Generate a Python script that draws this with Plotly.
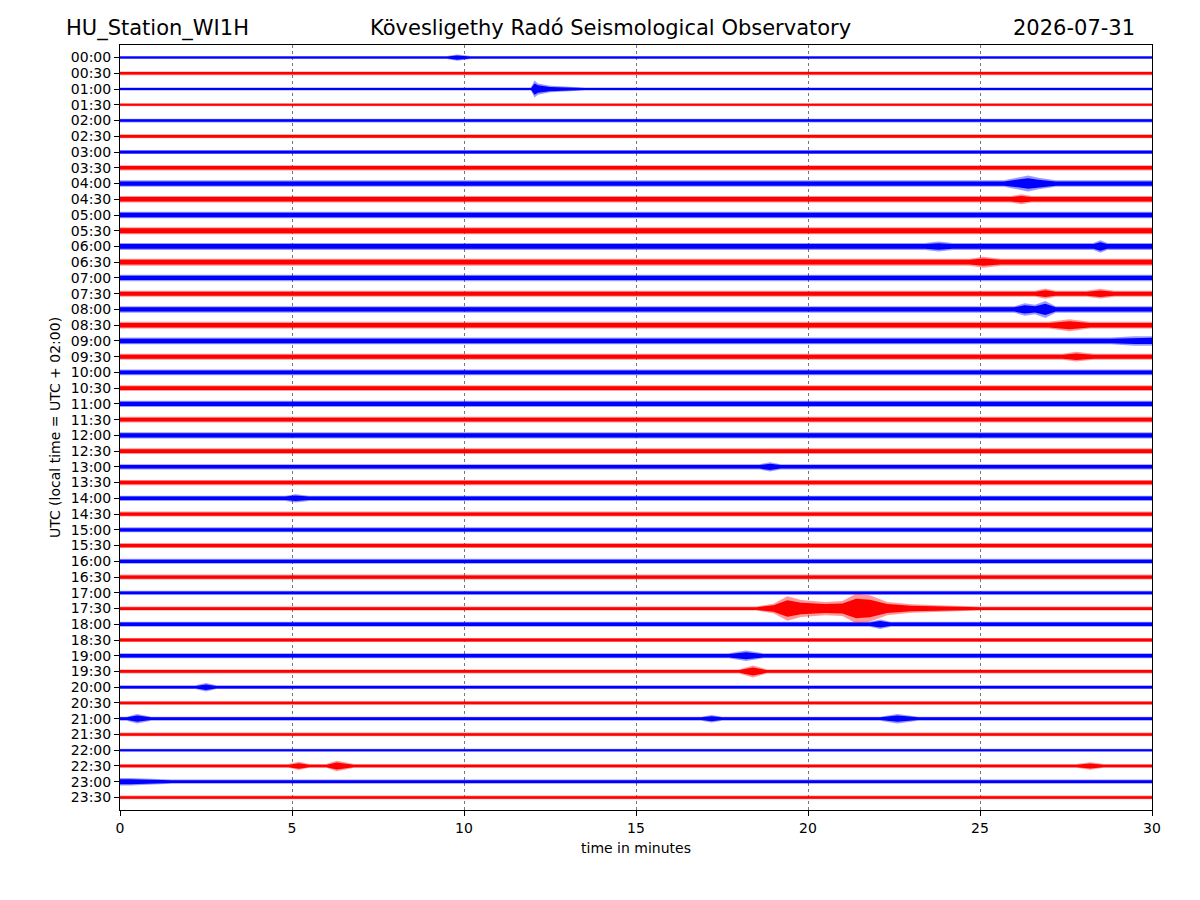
import plotly.graph_objects as go

# helicorder of one day, 48 rows of 30 minutes
station = "HU_Station_WI1H"
observatory = "Kövesligethy Radó Seismological Observatory"
day = "2026-07-31"
record_minutes = 30

row_labels = ["%02d:%02d" % (h, m) for h in range(24) for m in (0, 30)]

# background noise level per row (half amplitude, in row spacings)
base_amp = [0.08, 0.10, 0.08, 0.08, 0.10, 0.11, 0.11, 0.14,
            0.17, 0.17, 0.17, 0.19, 0.19, 0.19, 0.17, 0.16,
            0.17, 0.18, 0.18, 0.16, 0.15, 0.15, 0.16, 0.15,
            0.16, 0.15, 0.14, 0.14, 0.14, 0.13, 0.13, 0.13,
            0.13, 0.13, 0.11, 0.11, 0.13, 0.11, 0.13, 0.11,
            0.10, 0.10, 0.11, 0.10, 0.08, 0.10, 0.11, 0.10]

# bursts above the noise: row, envelope times (min), envelope half amplitudes
ev_rows = ["00:00", "01:00", "04:00", "04:30", "06:00", "06:00", "06:30",
           "07:30", "07:30", "08:00", "08:30", "09:00", "09:30", "13:00",
           "14:00", "17:30", "18:00", "19:00", "19:30", "20:00", "21:00",
           "21:00", "21:00", "22:30", "22:30", "22:30", "23:00"]
ev_t = [[9.5, 9.8, 10.2],
        [11.95, 12.05, 12.15, 12.5, 13.5],
        [25.7, 26.1, 26.4, 26.7, 27.2],
        [25.9, 26.2, 26.5],
        [23.4, 23.8, 24.2],
        [28.3, 28.5, 28.7],
        [24.7, 25.1, 25.6],
        [26.6, 26.9, 27.2],
        [28.1, 28.5, 28.9],
        [26.0, 26.3, 26.6, 26.9, 27.2],
        [27.0, 27.6, 28.2],
        [28.8, 29.5, 30.0],
        [27.4, 27.8, 28.3],
        [18.6, 18.9, 19.2],
        [4.8, 5.1, 5.5],
        [18.5, 19.0, 19.4, 19.8, 20.5, 21.0, 21.4, 21.8, 22.3, 23.0, 24.0, 25.0],
        [21.8, 22.1, 22.4],
        [17.7, 18.2, 18.7],
        [18.0, 18.4, 18.8],
        [2.2, 2.5, 2.8],
        [0.2, 0.5, 0.9],
        [16.9, 17.2, 17.5],
        [22.1, 22.6, 23.2],
        [4.9, 5.2, 5.5],
        [6.0, 6.3, 6.8],
        [27.8, 28.2, 28.6],
        [0.0, 0.3, 1.5]]
ev_a = [[0.08, 0.17, 0.08],
        [0.08, 0.45, 0.30, 0.17, 0.08],
        [0.17, 0.30, 0.42, 0.30, 0.17],
        [0.17, 0.26, 0.17],
        [0.19, 0.26, 0.19],
        [0.19, 0.33, 0.19],
        [0.19, 0.29, 0.19],
        [0.16, 0.27, 0.16],
        [0.16, 0.26, 0.16],
        [0.17, 0.33, 0.25, 0.45, 0.17],
        [0.18, 0.32, 0.18],
        [0.18, 0.25, 0.25],
        [0.16, 0.26, 0.16],
        [0.14, 0.25, 0.14],
        [0.14, 0.22, 0.14],
        [0.11, 0.25, 0.65, 0.45, 0.35, 0.40, 0.78, 0.70, 0.35, 0.22, 0.16, 0.11],
        [0.13, 0.25, 0.13],
        [0.13, 0.28, 0.13],
        [0.11, 0.32, 0.11],
        [0.10, 0.22, 0.10],
        [0.11, 0.25, 0.11],
        [0.11, 0.20, 0.11],
        [0.11, 0.25, 0.11],
        [0.10, 0.22, 0.10],
        [0.10, 0.28, 0.10],
        [0.10, 0.20, 0.10],
        [0.20, 0.20, 0.11]]

colors = {0: ("#0000ff", "rgba(0,0,255,0.4)"), 1: ("#ff0000", "rgba(255,0,0,0.4)")}


def band(xs, r, amps, scale):
    # closed polygon around row r, upper edge then lower edge back
    up = [r - a * scale for a in amps]
    lo = [r + a * scale for a in amps]
    return list(xs) + list(xs[::-1]) + [xs[0], None], up + lo[::-1] + [up[0], None]


fig = go.Figure()
for parity in (0, 1):
    # light fringe for the spikes, solid core inside it
    for scale, col in ((1.2, colors[parity][1]), (0.8, colors[parity][0])):
        px, py = [], []
        for r, lab in enumerate(row_labels):
            if r % 2 != parity:
                continue
            x, y = band([0, record_minutes], r, [base_amp[r], base_amp[r]], scale)
            px += x
            py += y
            for er, et, ea in zip(ev_rows, ev_t, ev_a):
                if er == lab:
                    x, y = band(et, r, ea, scale)
                    px += x
                    py += y
        fig.add_trace(go.Scatter(x=px, y=py, mode="lines", fill="toself",
                                 fillcolor=col, line=dict(width=0, color=col),
                                 hoverinfo="skip", showlegend=False))

fig.update_layout(
    width=1200, height=900,
    margin=dict(l=112, r=56, t=37, b=98),
    plot_bgcolor="white", paper_bgcolor="white",
    font=dict(family="DejaVu Sans", size=14, color="black"),
    showlegend=False,
)
fig.update_xaxes(range=[0, record_minutes], tickvals=[0, 5, 10, 15, 20, 25, 30],
                 showgrid=True, gridcolor="#777", griddash="dot", gridwidth=0.7,
                 showline=True, linecolor="black", linewidth=1, mirror=True,
                 ticks="outside", ticklen=5, tickcolor="black", zeroline=False,
                 title=dict(text="time in minutes", font=dict(size=14), standoff=8))
fig.update_yaxes(range=[47.8, -0.8], tickvals=list(range(len(row_labels))), ticktext=row_labels,
                 showgrid=False, showline=True, linecolor="black", linewidth=1, mirror=True,
                 ticks="outside", ticklen=5, tickcolor="black", zeroline=False,
                 title=dict(text="UTC (local time = UTC + 02:00)", font=dict(size=14), standoff=6))

for txt, xp, anchor in ((station, -0.054, "left"), (observatory, 0.475, "center"), (day, 0.985, "right")):
    fig.add_annotation(text=txt, x=xp, y=1.022, xref="paper", yref="paper",
                       xanchor=anchor, yanchor="middle", showarrow=False,
                       font=dict(size=21, family="DejaVu Sans"))

fig.write_html("out.html")
